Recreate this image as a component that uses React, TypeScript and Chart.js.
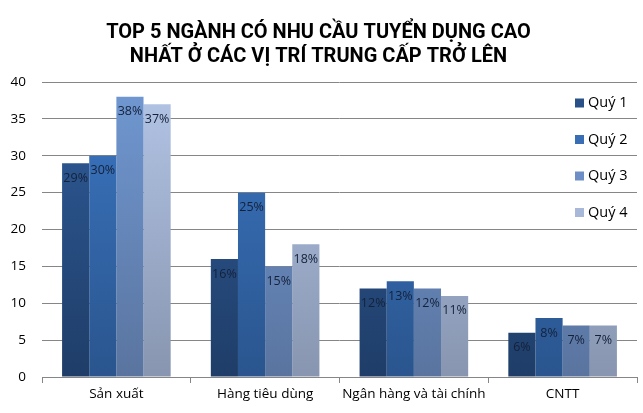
import React, { useEffect, useRef } from "react";
import { Chart, ChartConfiguration, Plugin, registerables } from "chart.js";

Chart.register(...registerables);

const titleLines = [
  "TOP 5 NGÀNH CÓ NHU CẦU TUYỂN DỤNG CAO",
  "NHẤT Ở CÁC VỊ TRÍ TRUNG CẤP TRỞ LÊN",
];
const categories = ["Sản xuất", "Hàng tiêu dùng", "Ngân hàng và tài chính", "CNTT"];
const seriesNames = ["Quý 1", "Quý 2", "Quý 3", "Quý 4"];
const quy1 = [29, 16, 12, 6];
const quy2 = [30, 25, 13, 8];
const quy3 = [38, 15, 12, 7];
const quy4 = [37, 18, 11, 7];
const yMin = 0;
const yMax = 40;
const yStep = 5;

// top / bottom colours of the vertical gradient of each series
const topColors = ["#2f5d9a", "#3b76c2", "#7098d2", "#b3c5e6"];
const bottomColors = ["#1f3d68", "#2a558e", "#5a749f", "#8795b0"];
const legendColors = ["#2a5088", "#3a6eb4", "#6e8fc6", "#a8b8d8"];

const FONT = "'Open Sans', 'Noto Sans', sans-serif";

const gradientFor = (i: number) => (ctx: any) => {
  const chart = ctx.chart;
  const area = chart.chartArea;
  if (!area) return topColors[i];
  const g = chart.ctx.createLinearGradient(0, area.top, 0, area.bottom);
  g.addColorStop(0, topColors[i]);
  g.addColorStop(1, bottomColors[i]);
  return g;
};

const valueLabels: Plugin<"bar"> = {
  id: "valueLabels",
  afterDatasetsDraw(chart) {
    const ctx = chart.ctx;
    ctx.save();
    ctx.font = `12.5px ${FONT}`;
    ctx.fillStyle = "#14213a";
    ctx.textAlign = "center";
    ctx.textBaseline = "middle";
    chart.data.datasets.forEach((ds, di) => {
      const meta = chart.getDatasetMeta(di);
      meta.data.forEach((el: any, i) => {
        ctx.fillText(`${ds.data[i]}%`, el.x, el.y + 15);
      });
    });
    ctx.restore();
  },
};

const sideLegend: Plugin<"bar"> = {
  id: "sideLegend",
  afterDraw(chart) {
    const ctx = chart.ctx;
    const area = chart.chartArea;
    const x = area.right - 62;
    ctx.save();
    ctx.font = `14.5px ${FONT}`;
    ctx.textBaseline = "middle";
    chart.data.datasets.forEach((ds, i) => {
      const y = area.top + 21 + i * 36.5;
      ctx.fillStyle = legendColors[i];
      ctx.fillRect(x, y - 4.5, 9, 9);
      ctx.fillStyle = "#000";
      ctx.fillText(String(ds.label), x + 13, y);
    });
    ctx.restore();
  },
};

const App: React.FC = () => {
  const chartRef = useRef<HTMLCanvasElement | null>(null);
  const chartInstance = useRef<Chart | null>(null);

  useEffect(() => {
    document.body.style.margin = "0";
    if (!chartRef.current) return;
    if (chartInstance.current) chartInstance.current.destroy();

    const series = [quy1, quy2, quy3, quy4];
    const config: ChartConfiguration<"bar"> = {
      type: "bar",
      data: {
        labels: categories,
        datasets: series.map((values, i) => ({
          label: seriesNames[i],
          data: values,
          backgroundColor: gradientFor(i),
          borderWidth: 0,
          categoryPercentage: 0.73,
          barPercentage: 1.0,
        })),
      },
      options: {
        animation: false,
        responsive: true,
        maintainAspectRatio: false,
        layout: { padding: { right: 6 } },
        plugins: {
          legend: { display: false },
          tooltip: { enabled: false },
          title: {
            display: true,
            text: titleLines,
            color: "#000",
            font: { family: "Roboto", size: 20, weight: "bold", lineHeight: 1.2 },
            padding: { top: 21, bottom: 13 },
          },
        },
        scales: {
          x: {
            grid: {
              offset: true,
              drawOnChartArea: false,
              tickLength: 6,
              color: "#868686",
            },
            border: { color: "#868686" },
            ticks: {
              color: "#000",
              font: { family: FONT, size: 13.5 },
              padding: 3,
              autoSkip: false,
              minRotation: 0,
              maxRotation: 0,
            },
            afterFit: (s: any) => {
              s.height = 36;
            },
          },
          y: {
            min: yMin,
            max: yMax,
            ticks: {
              stepSize: yStep,
              color: "#000",
              font: { family: FONT, size: 13.5 },
              padding: 16,
            },
            grid: { color: "#868686", drawTicks: false },
            border: { display: false },
            afterFit: (s: any) => {
              s.width = 42;
            },
          },
        },
      },
      plugins: [valueLabels, sideLegend],
    };

    chartInstance.current = new Chart(chartRef.current, config);
    return () => {
      if (chartInstance.current) {
        chartInstance.current.destroy();
        chartInstance.current = null;
      }
    };
  }, []);

  return (
    <div style={{ position: "absolute", left: 0, top: 0, width: 643, height: 413 }}>
      <canvas ref={chartRef}></canvas>
    </div>
  );
};

export default App;
